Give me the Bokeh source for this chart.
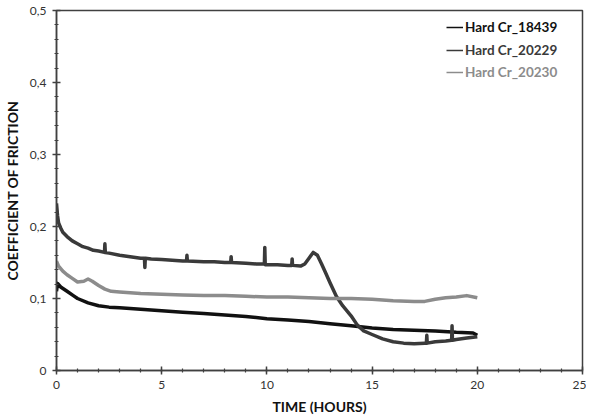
from bokeh.plotting import figure
from bokeh.models import (FixedTicker, CustomJSTickFormatter, Legend, LegendItem,
                          Range1d)
from bokeh.embed import file_html
from bokeh.resources import INLINE

# ---- data ----
series_names = ["Hard Cr_18439", "Hard Cr_20229", "Hard Cr_20230"]

t_18439 = [0, 0.05, 0.2, 0.5, 0.8, 1.0, 1.5, 2.0, 2.5, 3.0, 4.0, 5.0, 6.0, 7.0, 8.0,
           9.0, 10.0, 11.0, 12.0, 13.0, 14.0, 15.0, 16.0, 17.0, 18.0, 19.0, 19.8, 20.0]
cof_18439 = [0.110, 0.121, 0.116, 0.110, 0.104, 0.100, 0.094, 0.090, 0.088, 0.087,
             0.085, 0.083, 0.081, 0.079, 0.077, 0.075, 0.072, 0.070, 0.068, 0.065,
             0.062, 0.059, 0.057, 0.056, 0.055, 0.053, 0.052, 0.049]

t_20229 = [0, 0.05, 0.1, 0.2, 0.3, 0.5, 0.75, 1.0, 1.25, 1.5, 1.75, 2.0, 2.28, 2.3, 2.32,
           2.5, 3.0, 3.5, 4.0, 4.18, 4.2, 4.22, 4.5, 5.0, 5.5, 6.0, 6.18, 6.2, 6.22, 7.0, 7.5,
           8.0, 8.28, 8.3, 8.32, 9.0, 9.5, 9.88, 9.9, 9.92, 10.5, 11.0, 11.18, 11.2, 11.22,
           11.6, 11.8, 12.0, 12.2, 12.4, 12.6, 12.8, 13.0, 13.3, 13.6, 14.0, 14.3, 14.6,
           15.0, 15.5, 16.0, 16.5, 17.0, 17.5, 17.58, 17.6, 17.62, 18.0, 18.5, 18.78,
           18.8, 18.82, 19.0, 19.5, 20.0]
cof_20229 = [0.232, 0.215, 0.205, 0.198, 0.192, 0.186, 0.180, 0.176, 0.172, 0.170,
             0.167, 0.166, 0.164, 0.176, 0.164, 0.163, 0.160, 0.158, 0.156, 0.156,
             0.143, 0.156, 0.155, 0.154, 0.153, 0.152, 0.152, 0.160, 0.152, 0.151,
             0.151, 0.150, 0.150, 0.158, 0.150, 0.149, 0.148, 0.148, 0.171, 0.147,
             0.147, 0.146, 0.146, 0.155, 0.146, 0.145, 0.148, 0.156, 0.164, 0.160,
             0.148, 0.135, 0.122, 0.103, 0.090, 0.076, 0.063, 0.055, 0.050, 0.044,
             0.040, 0.038, 0.037, 0.038, 0.038, 0.049, 0.038, 0.040, 0.041, 0.042,
             0.062, 0.042, 0.043, 0.045, 0.047]

t_20230 = [0, 0.1, 0.3, 0.5, 0.75, 1.0, 1.3, 1.5, 1.7, 2.0, 2.3, 2.6, 3.0, 4.0, 5.0,
           6.0, 7.0, 8.0, 9.0, 10.0, 11.0, 12.0, 13.0, 14.0, 15.0, 16.0, 17.0, 17.5,
           18.0, 18.5, 19.0, 19.5, 20.0]
cof_20230 = [0.152, 0.145, 0.138, 0.133, 0.128, 0.123, 0.124, 0.127, 0.124, 0.118,
             0.113, 0.110, 0.109, 0.107, 0.106, 0.105, 0.104, 0.104, 0.103, 0.102,
             0.102, 0.101, 0.100, 0.100, 0.099, 0.097, 0.096, 0.096, 0.099, 0.101,
             0.102, 0.104, 0.101]

x_ticks = [0, 5, 10, 15, 20, 25]
y_ticks = [0, 0.1, 0.2, 0.3, 0.4, 0.5]
y_tick_labels = ["0", "0,1", "0,2", "0,3", "0,4", "0,5"]

colors = ["#111111", "#3a3a3a", "#8c8c8c"]
FONT = "Lato"
AXIS_COL = "#404040"

p = figure(width=585, height=416, output_backend="svg", toolbar_location=None,
           x_range=Range1d(0, 25), y_range=Range1d(0, 0.5),
           min_border_left=55, min_border_right=4, min_border_top=10,
           min_border_bottom=46)
p.frame_width = 526
p.frame_height = 360
p.grid.visible = False
p.outline_line_color = AXIS_COL
p.outline_line_width = 1.5
p.background_fill_color = "white"
p.border_fill_color = "white"

renderers = []
for t, c, col in zip([t_18439, t_20229, t_20230], [cof_18439, cof_20229, cof_20230], colors):
    r = p.line(t, c, line_color=col, line_width=3.5, line_join="round")
    renderers.append(r)

# thin proxies used only for the legend swatches (NaN data, nothing drawn in the plot)
nan = float("nan")
proxies = [p.line([nan], [nan], line_color=col, line_width=1.5) for col in colors]

p.xaxis.ticker = FixedTicker(ticks=x_ticks, minor_ticks=list(range(0, 26)))
p.yaxis.ticker = FixedTicker(ticks=y_ticks,
                             minor_ticks=[i * 0.02 for i in range(26)])
labels_js = "{" + ",".join(f"'{v:.1f}':'{l}'" for v, l in zip(y_ticks, y_tick_labels)) + "}"
p.yaxis.formatter = CustomJSTickFormatter(
    code=f"var m={labels_js}; var k=tick.toFixed(1); return (k in m) ? m[k] : k.replace('.', ',');")

for ax in (p.xaxis[0], p.yaxis[0]):
    ax.axis_line_color = AXIS_COL
    ax.axis_line_width = 1.5
    ax.major_tick_line_color = AXIS_COL
    ax.minor_tick_line_color = AXIS_COL
    ax.major_tick_line_width = 1.5
    ax.minor_tick_line_width = 1.2
    ax.major_tick_in = 4
    ax.major_tick_out = 4
    ax.minor_tick_in = 2
    ax.minor_tick_out = 2
    ax.major_label_text_font = FONT
    ax.major_label_text_font_size = "12px"
    ax.major_label_text_color = "#333333"
    ax.axis_label_text_font = FONT
    ax.axis_label_text_font_size = "14px"
    ax.axis_label_text_font_style = "bold"
    ax.axis_label_text_color = "#111111"

p.xaxis.axis_label = "TIME (HOURS)"
p.yaxis.axis_label = "COEFFICIENT OF FRICTION"
p.xaxis.major_label_standoff = 6
p.xaxis.axis_label_standoff = 6
p.yaxis.major_label_standoff = 6
p.yaxis.axis_label_standoff = 6

# legend: one small legend per series so each label keeps its own colour
offsets = [343, 320, 298]
for name, r, col, yo in zip(series_names, proxies, colors, offsets):
    lg = Legend(items=[LegendItem(label=name, renderers=[r])],
                location=(390, yo - 8), orientation="vertical",
                background_fill_alpha=0, border_line_alpha=0,
                padding=0, margin=0, spacing=0,
                glyph_width=17, glyph_height=16, label_height=16,
                label_standoff=2, label_text_font=FONT,
                label_text_font_size="13.5px", label_text_font_style="bold",
                label_text_color=col)
    p.add_layout(lg, "center")

open("out.html", "w").write(file_html(p, INLINE))
